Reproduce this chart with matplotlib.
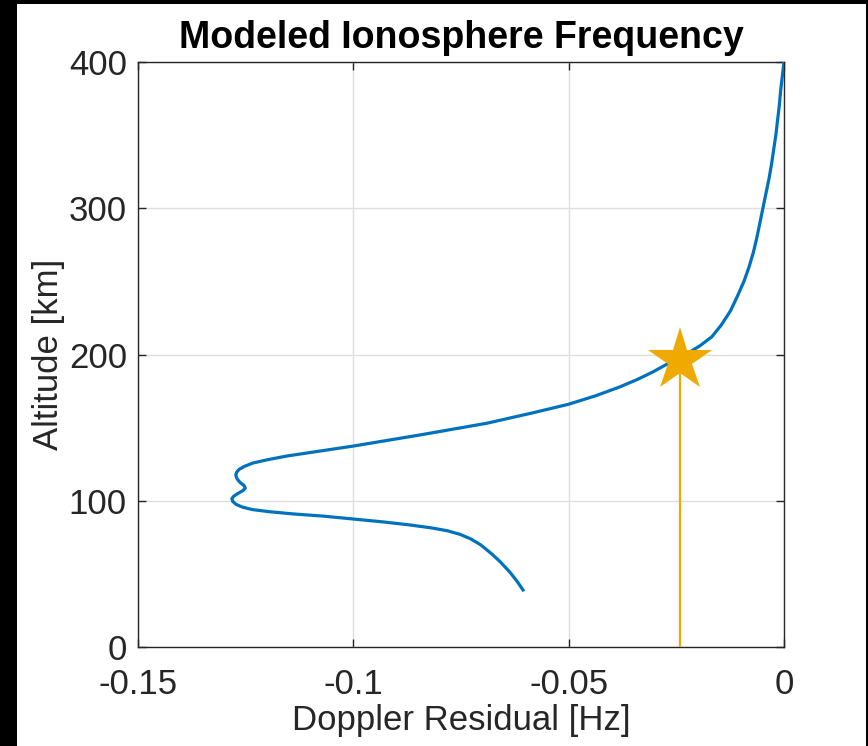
import numpy as np
import matplotlib.pyplot as plt
from matplotlib.patches import Rectangle

# modeled doppler residual vs altitude
altitude = [400, 390, 380, 370, 360, 350, 340, 330, 320, 310, 300, 290, 280,
            270, 260, 250, 240, 230, 220, 212, 206, 200, 194, 188, 183, 178,
            172, 166, 160, 153, 145, 137.4, 130.6, 128, 125.8, 123.5, 121.5,
            119.5, 117.5, 115, 112.5, 110.5, 108.7, 107, 105, 103, 101.5, 99.5,
            97.5, 95.7, 94, 92.5, 91, 89.5, 87.5, 85.5, 83.5, 81.5, 79.5, 77,
            74, 70, 64, 58, 51, 45, 39]
doppler = [0.0, -0.0004, -0.0008, -0.0011, -0.0015, -0.0019, -0.0024, -0.0029,
           -0.0035, -0.0042, -0.0049, -0.0056, -0.0063, -0.0071, -0.0081,
           -0.0093, -0.0108, -0.0124, -0.0146, -0.0168, -0.0195, -0.0228,
           -0.0268, -0.0305, -0.0340, -0.038, -0.0435, -0.050, -0.0585, -0.069,
           -0.0845, -0.100, -0.1154, -0.1200, -0.1233, -0.1253, -0.1265,
           -0.1271, -0.1273, -0.1270, -0.1263, -0.1254, -0.1251, -0.1256,
           -0.1268, -0.1278, -0.1282, -0.1280, -0.1272, -0.1258, -0.1235,
           -0.1195, -0.1140, -0.107, -0.100, -0.093, -0.087, -0.0820, -0.0782,
           -0.0752, -0.0728, -0.0705, -0.0680, -0.0658, -0.0636, -0.0620,
           -0.0606]

star_doppler = -0.0242
star_altitude = 196

blue = '#0072BD'
orange = '#F0A900'
dark = '#262626'

plt.rcParams['font.family'] = ['Liberation Sans', 'DejaVu Sans']

fig = plt.figure(figsize=(8.68, 7.46), dpi=100)
fig.patch.set_facecolor('black')
fig.add_artist(Rectangle((17 / 868, 0), (866 - 17) / 868, (746 - 4) / 746,
                         transform=fig.transFigure, facecolor='white',
                         edgecolor='none', zorder=0))

ax = fig.add_axes([138 / 868, 99 / 746, 646 / 868, 585 / 746])
ax.set_facecolor('white')

ax.plot(doppler, altitude, color=blue, linewidth=2.3, zorder=3,
        solid_joinstyle='round')
ax.plot([star_doppler, star_doppler], [0, star_altitude], color=orange,
        linewidth=1.6, zorder=4)
ax.plot(star_doppler, star_altitude, marker='*', markersize=48, color=orange,
        markeredgewidth=0, linestyle='none', zorder=5)

ax.set_xlim(-0.15, 0)
ax.set_ylim(0, 400)
ax.set_xticks([-0.15, -0.1, -0.05, 0])
ax.set_xticklabels(['-0.15', '-0.1', '-0.05', '0'])
ax.set_yticks([0, 100, 200, 300, 400])

ax.grid(True, color='#dfdfdf', linewidth=1.0, zorder=1)
ax.set_axisbelow(True)
for s in ax.spines.values():
    s.set_color(dark)
    s.set_linewidth(1.0)
ax.tick_params(direction='in', length=6, width=1.0, colors=dark,
               labelsize=25, top=True, right=True, pad=8)
ax.tick_params(axis='x', pad=15)

ax.set_title('Modeled Ionosphere Frequency', fontsize=27, fontweight='bold',
             color='black', pad=10)
ax.set_xlabel('Doppler Residual [Hz]', fontsize=25, color=dark, labelpad=2)
ax.set_ylabel('Altitude [km]', fontsize=25, color=dark, labelpad=3)

fig.savefig('out.png', dpi=100, facecolor=fig.get_facecolor())
